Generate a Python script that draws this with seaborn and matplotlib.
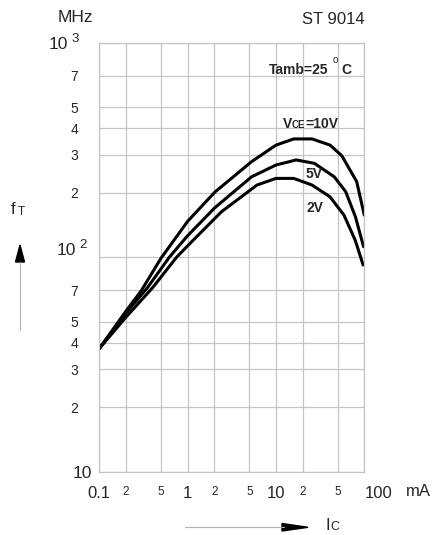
import numpy as np
import pandas as pd
import matplotlib
matplotlib.use("Agg")
import matplotlib.pyplot as plt
import matplotlib.transforms as mtransforms
from matplotlib.lines import Line2D
from matplotlib.patches import Polygon
import seaborn as sns

# ---- data ----
ic_10v = [0.1, 0.2, 0.3, 0.5, 1.0, 2.03, 5.3, 10, 15.9, 25.6, 41, 55.7, 82, 100]
ft_10v = [37.5, 56, 70, 99, 147, 201, 279, 333, 356, 356, 333, 297, 225, 157]

ic_5v = [0.1, 0.2, 0.35, 0.62, 1.0, 2.03, 5.3, 10, 16.9, 27.2, 45.7, 61.6, 79.5, 98]
ft_5v = [37.5, 55, 72, 100, 126, 170, 237, 269, 284, 274, 237, 202, 154, 112]

ic_2v = [0.1, 0.2, 0.4, 0.75, 1.0, 2.42, 6.1, 10, 15.9, 25.6, 41, 58.9, 78.9, 97]
ft_2v = [37.5, 52.5, 72, 100, 113, 163, 217, 233, 233, 217, 191, 157, 120, 92]

x_ticks = [0.1, 0.2, 0.5, 1, 2, 5, 10, 20, 50, 100]
x_labels = ["0.1", "2", "5", "1", "2", "5", "10", "2", "5", "100"]
y_ticks = [10, 20, 30, 40, 50, 70, 100, 200, 300, 400, 500, 700, 1000]
y_labels = ["10", "2", "3", "4", "5", "7", "10",
            "2", "3", "4", "5", "7", "10"]

df = pd.concat([
    pd.DataFrame({"Ic": ic_10v, "fT": ft_10v, "VCE": "10V"}),
    pd.DataFrame({"Ic": ic_5v, "fT": ft_5v, "VCE": "5V"}),
    pd.DataFrame({"Ic": ic_2v, "fT": ft_2v, "VCE": "2V"}),
])

sns.set_style("white")
plt.rcParams["font.family"] = ["Liberation Sans", "DejaVu Sans"]

W, H = 436, 535
fig = plt.figure(figsize=(W / 100, H / 100), dpi=100)
ax = fig.add_axes([99.3 / W, 1 - 471.7 / H, (364.3 - 99.3) / W, (471.7 - 42.7) / H])

sns.lineplot(data=df, x="Ic", y="fT", hue="VCE", palette=["black"] * 3,
             legend=False, sort=False, estimator=None, linewidth=2.2, ax=ax)

ax.set_xscale("log")
ax.set_yscale("log")
ax.set_xlim(0.1, 100)
ax.set_ylim(10, 1000)
ax.minorticks_off()

gcol = "#c4c4c4"
for v in x_ticks:
    ax.axvline(v, color=gcol, lw=0.9, zorder=0)
for v in y_ticks:
    ax.axhline(v, color=gcol, lw=0.9, zorder=0)
for s in ax.spines.values():
    s.set_color(gcol)
    s.set_linewidth(0.9)

ax.set_xticks(x_ticks)
ax.set_xticklabels(x_labels)
ax.set_yticks(y_ticks)
ax.set_yticklabels(y_labels)
ax.tick_params(axis="both", length=0)
ax.tick_params(axis="x", pad=10)
ax.tick_params(axis="y", pad=15)
ax.set_xlabel("")
ax.set_ylabel("")

for lab in ax.get_xticklabels():
    t = lab.get_text()
    if t in ("2", "5"):
        lab.set_fontsize(8.5)
    else:
        lab.set_fontsize(12)
    if t == "100":
        lab.set_horizontalalignment("left")

y_offsets = {0: (14, 0), 6: (-2, 8), 12: (-10, 0)}
for i, lab in enumerate(ax.get_yticklabels()):
    t = lab.get_text()
    if t == "10":
        lab.set_fontsize(12.5)
    else:
        lab.set_fontsize(10)
    if i in y_offsets:
        dx, dy = y_offsets[i]
        off = mtransforms.ScaledTranslation(dx / 100, dy / 100, fig.dpi_scale_trans)
        lab.set_transform(lab.get_transform() + off)


def P(x, y):
    return x / W, 1 - y / H


# exponents of the decade labels
fig.text(*P(71, 39), "3", fontsize=9.5, va="center", ha="left")
fig.text(*P(79, 245), "2", fontsize=9.5, va="center", ha="left")

fig.text(*P(58, 17), "MHz", fontsize=12.5, va="center", ha="left")
fig.text(*P(365, 20), "ST 9014", fontsize=12, va="center", ha="right")

# Tamb
fig.text(*P(269, 70), "Tamb=25", fontsize=10, fontweight="bold", va="center", ha="left")
fig.text(*P(333, 60), "o", fontsize=7, va="center", ha="left")
fig.text(*P(341, 70), "C", fontsize=10, fontweight="bold", va="center", ha="left")

# curve labels
fig.text(*P(283, 124), "V", fontsize=10, fontweight="bold", va="center", ha="left")
fig.text(*P(292, 125.5), "CE", fontsize=7, fontweight="bold", va="center", ha="left")
fig.text(*P(305, 124), "=10V", fontsize=10, fontweight="bold", va="center", ha="left")
fig.text(*P(306, 174), "5V", fontsize=10, fontweight="bold", va="center", ha="left")
fig.text(*P(306, 208), "2V", fontsize=10, fontweight="bold", va="center", ha="left")

# fT label and up arrow
fig.text(*P(11, 210), "f", fontsize=12, va="center", ha="left")
fig.text(*P(17.5, 211.5), "T", fontsize=8.5, va="center", ha="left")
fig.add_artist(Line2D([20 / W, 20 / W], [1 - 330 / H, 1 - 262 / H],
                      transform=fig.transFigure, color="#b0b0b0", lw=0.8))
fig.add_artist(Polygon([P(20, 245), P(15.5, 262), P(24.5, 262)], closed=True,
                       transform=fig.transFigure, color="black"))

# mA and Ic arrow
fig.text(*P(406, 491), "mA", fontsize=12, va="center", ha="left")
fig.add_artist(Line2D([185 / W, 284 / W], [1 - 527.3 / H, 1 - 527.3 / H],
                      transform=fig.transFigure, color="#b0b0b0", lw=0.8))
fig.add_artist(Polygon([P(308, 527.3), P(282, 523.5), P(282, 531)], closed=True,
                       transform=fig.transFigure, color="black"))
fig.text(*P(325, 526), "I", fontsize=12, va="center", ha="left")
fig.text(*P(330, 527.5), "C", fontsize=9, va="center", ha="left")

fig.savefig("out.png", dpi=100)
